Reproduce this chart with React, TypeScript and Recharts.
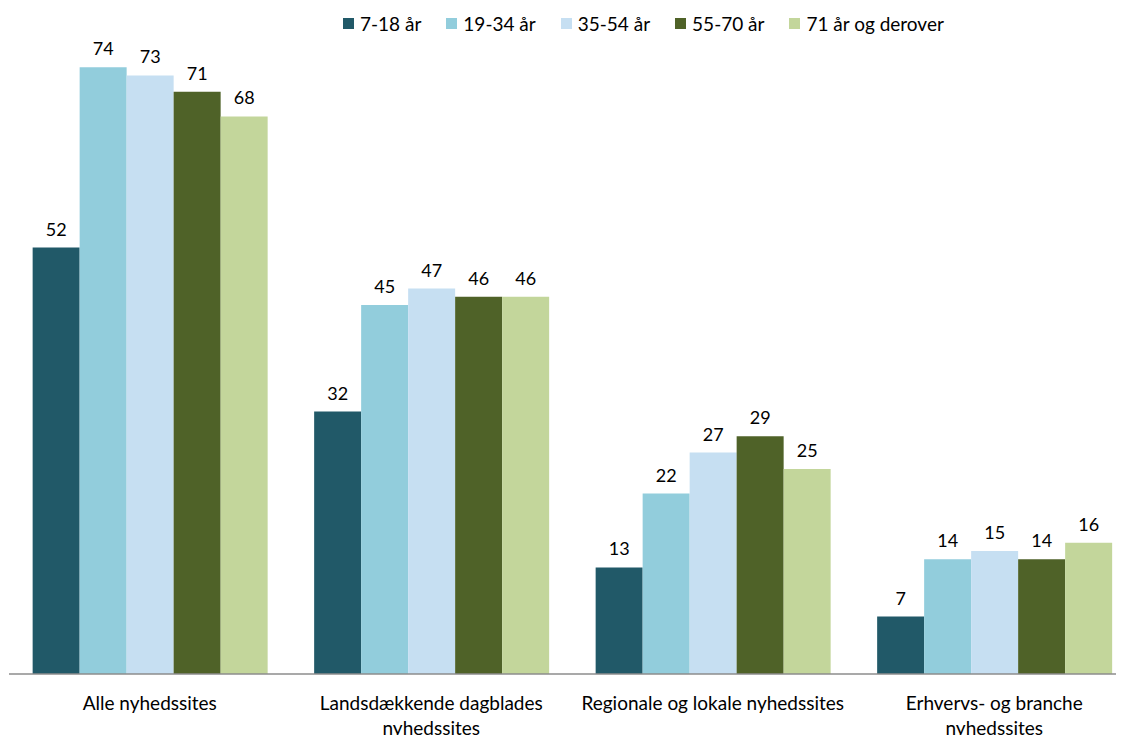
import { Bar, BarChart, LabelList, XAxis, YAxis } from "recharts"

const categories = [
  "Alle nyhedssites",
  "Landsdækkende dagblades\nnyhedssites",
  "Regionale og lokale nyhedssites",
  "Erhvervs- og branche\nnyhedssites",
]

const age7to18 = [52, 32, 13, 7]
const age19to34 = [74, 45, 22, 14]
const age35to54 = [73, 47, 27, 15]
const age55to70 = [71, 46, 29, 14]
const age71plus = [68, 46, 25, 16]

const seriesNames = ["7-18 år", "19-34 år", "35-54 år", "55-70 år", "71 år og derover"]
const seriesColors = ["#215968", "#92CDDC", "#C6DFF2", "#4F6228", "#C3D69B"]
const seriesValues = [age7to18, age19to34, age35to54, age55to70, age71plus]

const chartData = categories.map((name, i) => {
  const row: Record<string, string | number> = { name }
  seriesNames.forEach((s, j) => {
    row[s] = seriesValues[j][i]
  })
  return row
})

const FONT = "Lato, 'Open Sans', sans-serif"

function CategoryTick(props: any) {
  const { x, y, payload } = props
  const lines = String(payload.value).split("\n")
  return (
    <text x={x} y={y} textAnchor="middle" fontSize={19} fontFamily={FONT} fill="#000">
      {lines.map((line, i) => (
        <tspan key={i} x={x} dy={i === 0 ? 28 : 25}>
          {line}
        </tspan>
      ))}
    </text>
  )
}

// legend drawn outside the chart so it doesn't eat plot height
function ChartLegend() {
  return (
    <div
      style={{
        position: "absolute",
        top: 4,
        left: 335,
        display: "flex",
        gap: 25,
        fontFamily: FONT,
        fontSize: 19,
        color: "#000",
        whiteSpace: "nowrap",
      }}
    >
      {seriesNames.map((s, j) => (
        <div key={s} style={{ display: "flex", alignItems: "center", gap: 6 }}>
          <span style={{ width: 11, height: 11, background: seriesColors[j], display: "inline-block" }} />
          <span>{s}</span>
        </div>
      ))}
    </div>
  )
}

export default function App() {
  return (
    <div style={{ position: "relative", width: 1116, height: 727, overflow: "hidden" }}>
      <BarChart
        width={1127}
        height={727}
        data={chartData}
        margin={{ top: 10, right: 0, bottom: 0, left: 1 }}
        barCategoryGap="8.4%"
        barGap={0}
      >
        <XAxis
          dataKey="name"
          tickLine={false}
          axisLine={{ stroke: "#8c8c8c", strokeWidth: 1.5 }}
          interval={0}
          tick={<CategoryTick />}
          height={61}
        />
        <YAxis hide domain={[0, 80]} />
        {seriesNames.map((s, j) => (
          <Bar key={s} dataKey={s} fill={seriesColors[j]} isAnimationActive={false}>
            <LabelList dataKey={s} position="top" offset={12} fontSize={18} fontFamily={FONT} fill="#000" />
          </Bar>
        ))}
      </BarChart>
      <ChartLegend />
    </div>
  )
}
